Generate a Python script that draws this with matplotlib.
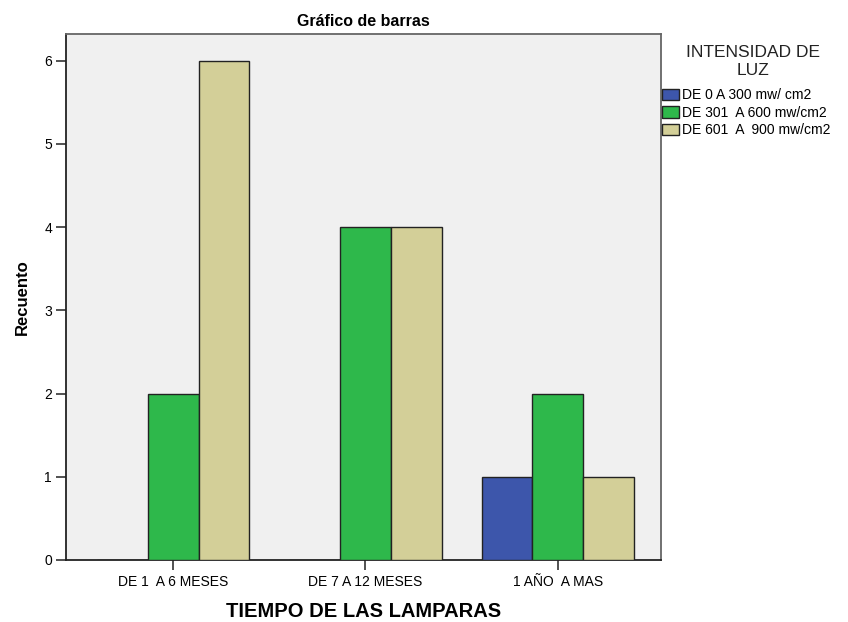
import numpy as np
import matplotlib
matplotlib.use("Agg")
import matplotlib.pyplot as plt

plt.rcParams["font.family"] = ["Liberation Sans", "DejaVu Sans"]

# ── Data ─────────────────────────────────────────────────────────────────────
categories = ["DE 1  A 6 MESES", "DE 7 A 12 MESES", "1 AÑO  A MAS"]
series_names = ["DE 0 A 300 mw/ cm2", "DE 301  A 600 mw/cm2", "DE 601  A  900 mw/cm2"]
series_vals = [
    [0, 0, 1],
    [2, 4, 2],
    [6, 4, 1],
]
colors = ["#3D56AB", "#2EB84B", "#D3CF98"]
y_ticks = [0, 1, 2, 3, 4, 5, 6]

# ── Figure ───────────────────────────────────────────────────────────────────
fig = plt.figure(figsize=(8.48, 6.22), dpi=100)
ax = fig.add_axes([0.0784, 0.0997, 0.7011, 0.8456])
ax.set_facecolor("#F0F0F0")

x = np.arange(len(categories))
width = 0.264
for i, (name, vals, col) in enumerate(zip(series_names, series_vals, colors)):
    ax.bar(x + (i - 1) * width, vals, width, color=col, edgecolor="#222222",
           linewidth=1.0, label=name, zorder=3)

ax.set_xlim(-0.556, 2.538)
ax.set_ylim(0, 6.32)
ax.set_xticks(x)
ax.set_xticklabels(categories, fontsize=10)
ax.set_yticks(y_ticks)
ax.set_yticklabels([str(v) for v in y_ticks], fontsize=10)
ax.tick_params(axis="both", direction="out", length=7, width=1.2, color="#333333")
for s in ["left", "bottom"]:
    ax.spines[s].set_color("#222222")
    ax.spines[s].set_linewidth(1.3)
for s in ["top", "right"]:
    ax.spines[s].set_color("#666666")
    ax.spines[s].set_linewidth(1.3)

ax.set_title("Gráfico de barras", fontsize=11.5, fontweight="bold", pad=6)
ax.set_ylabel("Recuento", fontsize=12, fontweight="bold", labelpad=10)
ax.set_xlabel("TIEMPO DE LAS LAMPARAS", fontsize=14.5, fontweight="bold", labelpad=10)

# ── Legend ───────────────────────────────────────────────────────────────────
fig.text(0.8875, 0.927, "INTENSIDAD DE\nLUZ", ha="center", va="top",
         fontsize=12.5, linespacing=1.25, color="#222222")
leg = fig.legend(loc="upper left", bbox_to_anchor=(0.781, 0.858),
                 frameon=False, fontsize=10, handlelength=1.2, handleheight=0.85,
                 handletextpad=0.2, labelspacing=0.25, borderaxespad=0, borderpad=0)

plt.savefig("out.png", dpi=100)
